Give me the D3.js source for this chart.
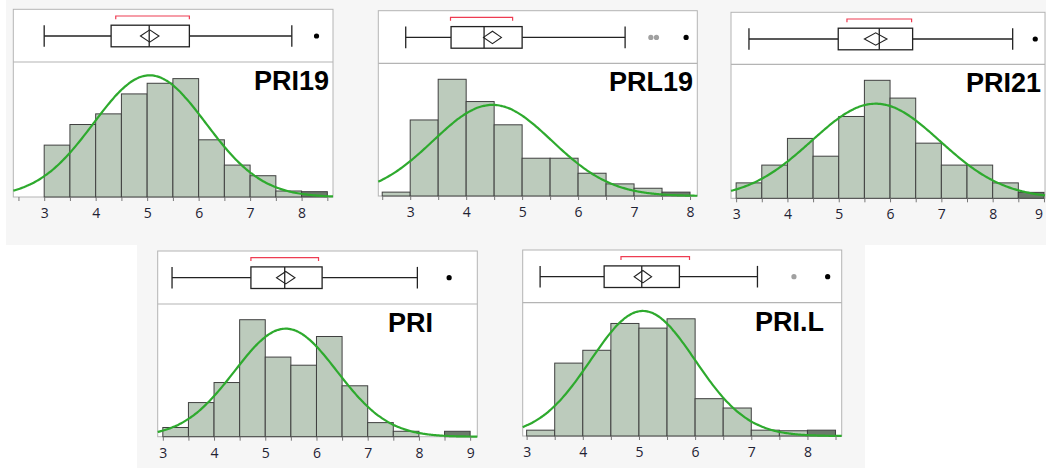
<!DOCTYPE html>
<html>
<head>
<meta charset="utf-8">
<script src="https://cdn.jsdelivr.net/npm/d3@7"></script>
<style>
  body { margin: 0; background: #fff; }
  svg { display: block; }
  .tick text { font-family: "Open Sans", "Noto Sans", sans-serif; font-size: 14px; fill: #1f2233; }
  .tick line { stroke: #777; }
  .domain { display: none; }
  .title { font-family: "Liberation Sans", Arial, sans-serif; font-weight: bold; font-size: 27px; fill: #000; }
</style>
</head>
<body>
<svg width="1046" height="468"></svg>
<script>
// distributions
const names = ["PRI19", "PRL19", "PRI21", "PRI", "PRI.L"];
const binStart = [3, 2.5, 3, 3, 3];
const binWidth = 0.5;

// percent of observations per 0.5 bin
const pctPRI19 = [7.8, 10.9, 12.5, 15.5, 17.1, 17.8, 8.6, 4.8, 3.2, 0.9, 0.8];
const pctPRL19 = [0.8, 15.7, 24.1, 19.5, 14.7, 7.8, 7.8, 4.7, 2.5, 1.6, 0.8];
const pctPRI21 = [2.6, 5.6, 10.1, 7.1, 13.8, 19.9, 16.9, 9.3, 5.6, 5.6, 2.6, 1.0];
const pctPRI = [1.7, 6.3, 10.0, 21.6, 14.7, 13.2, 18.5, 9.4, 2.6, 1.0, 0, 1.0];
const pctPRIL = [1.0, 12.5, 14.7, 19.3, 18.5, 20.1, 6.4, 4.8, 1.0, 0.9, 1.0];
const pcts = [pctPRI19, pctPRL19, pctPRI21, pctPRI, pctPRIL];

// normal fit
const means = [5.05, 4.47, 5.72, 5.40, 5.07];
const sds = [1.09, 1.06, 1.25, 1.0, 0.93];
const ciHalf = [0.18, 0.16, 0.22, 0.18, 0.155];

// box plot: [lower whisker, q1, median, q3, upper whisker]
const boxStats = [
    [3.0, 4.30, 5.04, 5.82, 7.81],
    [2.92, 3.73, 4.32, 5.0, 6.84],
    [3.25, 4.99, 5.79, 6.44, 8.39],
    [3.18, 4.72, 5.38, 6.11, 7.97],
    [3.24, 4.38, 5.05, 5.72, 7.11]
];
const shortestHalf = [[4.39, 5.82], [3.72, 4.83], [5.16, 6.42], [4.72, 6.04], [4.68, 5.90]];
const outliers = [[8.29], [7.93], [8.83], [8.59], [8.36]];
const farOutliersGrey = [[], [7.30, 7.40], [], [], [7.76]];

// screen layout of each panel
const layout = [
    { left: 13.3, right: 333, top: 9.3, divider: 62, base: 197, xDom: [2.4, 8.61], yMax: 20.3, titleX: 254 },
    { left: 378.3, right: 697.3, top: 10.7, divider: 63.3, base: 196, xDom: [2.43, 8.13], yMax: 27.4, titleX: 609 },
    { left: 731, right: 1045, top: 12.3, divider: 64.3, base: 198.3, xDom: [2.9, 9.02], yMax: 22.6, titleX: 966 },
    { left: 157.7, right: 477.3, top: 251, divider: 304, base: 436.7, xDom: [2.9, 9.14], yMax: 24.5, titleX: 388 },
    { left: 522.7, right: 841.7, top: 250, divider: 302.7, base: 436, xDom: [2.93, 8.61], yMax: 22.86, titleX: 755 }
];

const svg = d3.select('svg');
const svgWidth = +svg.attr('width');

// grey backdrops of the two rows
svg.append('rect').attr('x', 6).attr('y', 0).attr('width', 1040).attr('height', 245).attr('fill', '#f6f6f6');
svg.append('rect').attr('x', 137).attr('y', 245).attr('width', 728).attr('height', 223).attr('fill', '#f6f6f6');

function normalPct(x, m, s) {
    return 100 * binWidth * Math.exp(-0.5 * ((x - m) / s) ** 2) / (s * Math.sqrt(2 * Math.PI));
}

names.forEach((name, i) => {
    const L = layout[i];
    const g = svg.append('g');

    const x = d3.scaleLinear().domain(L.xDom).range([L.left, L.right]);
    const y = d3.scaleLinear().domain([0, L.yMax]).range([L.base, L.divider]);

    // frame
    g.append('rect')
        .attr('x', L.left).attr('y', L.top)
        .attr('width', L.right - L.left).attr('height', L.base - L.top)
        .attr('fill', '#fff').attr('stroke', '#b4b4b4').attr('stroke-width', 1);

    g.append('line')
        .attr('x1', L.left).attr('x2', L.right)
        .attr('y1', L.divider).attr('y2', L.divider)
        .attr('stroke', '#b4b4b4').attr('stroke-width', 1.2);

    // histogram bars
    const bins = pcts[i].map((v, k) => ({ x0: binStart[i] + k * binWidth, v, last: k === pcts[i].length - 1 }));
    g.selectAll('rect.bar')
        .data(bins.filter(d => d.v > 0))
        .enter()
        .append('rect')
        .attr('class', 'bar')
        .attr('x', d => x(d.x0))
        .attr('y', d => y(d.v))
        .attr('width', d => x(d.x0 + binWidth) - x(d.x0))
        .attr('height', d => y(0) - y(d.v))
        .attr('fill', d => d.last ? '#6b7a6b' : '#bccbbc')
        .attr('stroke', '#404040')
        .attr('stroke-width', 1);

    // normal curve
    const xs = d3.range(L.xDom[0], L.xDom[1] + 0.001, (L.xDom[1] - L.xDom[0]) / 200);
    const line = d3.line()
        .x(d => x(d))
        .y(d => y(normalPct(d, means[i], sds[i])))
        .curve(d3.curveBasis);
    g.append('path')
        .datum(xs)
        .attr('d', line)
        .attr('fill', 'none')
        .attr('stroke', '#2eaa2e')
        .attr('stroke-width', 2.2);

    // axis
    const ticks = d3.range(Math.ceil(L.xDom[0] * 2) / 2, L.xDom[1] + 0.001, 0.5);
    const axis = d3.axisBottom(x)
        .tickValues(ticks)
        .tickSize(4)
        .tickPadding(7)
        .tickFormat(d => Number.isInteger(d) ? d : '');
    const ax = g.append('g')
        .attr('transform', `translate(0, ${L.base})`)
        .call(axis);
    // keep a label that would run past the page edge inside it
    ax.selectAll('.tick text')
        .filter(d => x(d) > svgWidth - 5)
        .attr('text-anchor', 'end')
        .attr('dx', '-0.1em');

    // title
    g.append('text')
        .attr('class', 'title')
        .attr('x', L.titleX)
        .attr('y', L.divider + 28)
        .text(name);

    // box plot
    const [lo, q1, med, q3, hi] = boxStats[i];
    const cy = L.top + 26.7;
    const hh = 10.8;
    const bp = g.append('g').attr('stroke', '#222').attr('stroke-width', 1.3).attr('fill', 'none');

    bp.append('line').attr('x1', x(lo)).attr('x2', x(q1)).attr('y1', cy).attr('y2', cy);
    bp.append('line').attr('x1', x(q3)).attr('x2', x(hi)).attr('y1', cy).attr('y2', cy);
    bp.append('line').attr('x1', x(lo)).attr('x2', x(lo)).attr('y1', cy - hh).attr('y2', cy + hh);
    bp.append('line').attr('x1', x(hi)).attr('x2', x(hi)).attr('y1', cy - hh).attr('y2', cy + hh);
    bp.append('rect')
        .attr('x', x(q1)).attr('y', cy - hh)
        .attr('width', x(q3) - x(q1)).attr('height', 2 * hh)
        .attr('fill', '#fff');
    bp.append('line').attr('x1', x(med)).attr('x2', x(med)).attr('y1', cy - hh).attr('y2', cy + hh);

    const m = means[i], c = ciHalf[i], dh = 6.2;
    bp.append('path')
        .attr('d', `M${x(m - c)},${cy} L${x(m)},${cy - dh} L${x(m + c)},${cy} L${x(m)},${cy + dh} Z`)
        .attr('stroke-width', 1.1);

    // shortest half bracket
    const [s0, s1] = shortestHalf[i];
    const by = L.top + 6.7;
    g.append('path')
        .attr('d', `M${x(s0)},${by + 3.3} L${x(s0)},${by} L${x(s1)},${by} L${x(s1)},${by + 3.3}`)
        .attr('fill', 'none')
        .attr('stroke', '#ee3c52')
        .attr('stroke-width', 1.2);

    // outliers
    g.selectAll('circle.grey')
        .data(farOutliersGrey[i])
        .enter().append('circle')
        .attr('cx', d => x(d)).attr('cy', cy).attr('r', 2.6)
        .attr('fill', '#a0a0a0');
    g.selectAll('circle.black')
        .data(outliers[i])
        .enter().append('circle')
        .attr('cx', d => x(d)).attr('cy', cy).attr('r', 2.6)
        .attr('fill', '#000');
});
</script>
</body>
</html>
